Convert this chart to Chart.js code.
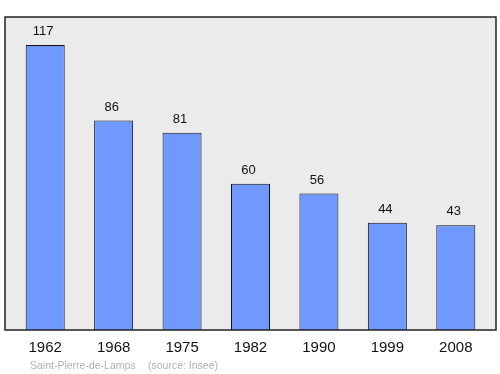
<!DOCTYPE html>
<html>
<head>
<meta charset="utf-8">
<script src="https://cdn.jsdelivr.net/npm/chart.js@4"></script>
<style>
  html, body { margin: 0; padding: 0; background: #fff; }
  #wrap { width: 500px; height: 374px; }
</style>
</head>
<body>
<div id="wrap"><canvas id="chart"></canvas></div>
<script>
const years = ['1962', '1968', '1975', '1982', '1990', '1999', '2008'];
const population = [117, 86, 81, 60, 56, 44, 43];
const sourceText = ['Saint-Pierre-de-Lamps', '(source: Insee)'];

// draws the grey box, value labels, year labels and source line
const decorations = {
  id: 'decorations',
  beforeDraw(chart) {
    const ctx = chart.ctx;
    const a = chart.chartArea;
    ctx.save();
    ctx.fillStyle = '#ebebeb';
    ctx.fillRect(5, a.top, 491, a.bottom - a.top);
    ctx.restore();
  },
  afterDraw(chart) {
    const ctx = chart.ctx;
    const a = chart.chartArea;
    const x = chart.scales.x;
    const y = chart.scales.y;
    ctx.save();
    ctx.strokeStyle = '#222';
    ctx.lineWidth = 1.5;
    ctx.strokeRect(5, a.top, 491, a.bottom - a.top);

    ctx.fillStyle = '#111';
    ctx.textAlign = 'center';
    ctx.textBaseline = 'alphabetic';
    ctx.font = '13px "Liberation Sans", Arial, sans-serif';
    population.forEach((v, i) => {
      ctx.fillText(String(v), x.getPixelForValue(i) - 2, y.getPixelForValue(v) - 10);
    });

    ctx.font = '15px "Liberation Sans", Arial, sans-serif';
    years.forEach((yr, i) => {
      ctx.fillText(yr, x.getPixelForValue(i), a.bottom + 22);
    });

    ctx.fillStyle = '#b0b0b0';
    ctx.textAlign = 'left';
    ctx.font = '10.5px "Liberation Sans", Arial, sans-serif';
    ctx.fillText(sourceText[0], 30, 369);
    ctx.fillText(sourceText[1], 148, 369);
    ctx.restore();
  }
};

new Chart(document.getElementById('chart'), {
  type: 'bar',
  data: {
    labels: years,
    datasets: [{
      data: population,
      backgroundColor: '#7099ff',
      borderColor: '#111',
      borderWidth: 1,
      categoryPercentage: 1,
      barPercentage: 0.57
    }]
  },
  options: {
    responsive: true,
    maintainAspectRatio: false,
    animation: false,
    layout: { padding: { left: 11, right: 10, top: 17, bottom: 44 } },
    plugins: { legend: { display: false }, tooltip: { enabled: false } },
    scales: {
      x: { display: false },
      y: { display: false, min: 0, max: 128.5 }
    }
  },
  plugins: [decorations]
});
</script>
</body>
</html>
